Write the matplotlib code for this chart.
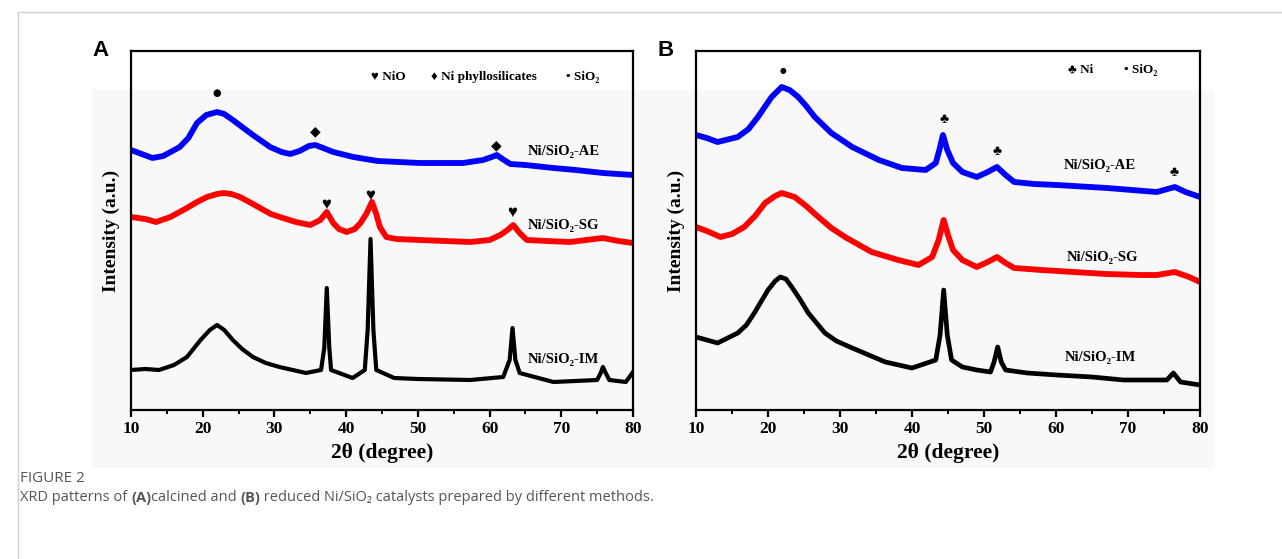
import matplotlib.pyplot as plt
from matplotlib.patches import Rectangle
from matplotlib.lines import Line2D

# Panel A (calcined) - 2theta (degree) / intensity (a.u., traces offset)
a_ae_x = [10, 11.5, 13, 14.5, 16.8, 18, 19.2, 20.5, 22, 23, 24.2, 25.5, 27, 29.4, 31, 32.2, 33.5, 34.8, 35.7, 36.8,
          38.2, 41, 44.4, 50.3, 56.3, 59.1, 60.3, 61, 61.8, 62.9, 65, 68.9, 72, 75.8, 80]
a_ae_y = [260, 256, 252, 254, 263, 272, 287, 295, 298, 296, 290, 283, 275, 263, 258, 256, 259, 264, 265, 262,
          258, 253, 249, 247, 247, 250, 253, 255, 251, 246, 245, 242, 240, 237, 235]

a_sg_x = [10, 12, 13.5, 15.5, 17.8, 19.2, 20.6, 22, 22.9, 24, 25.2, 26.5, 28, 29.5, 31.2, 33, 35, 36.4, 37.3, 38.2,
          39, 40.1, 41.2, 42, 42.8, 43.6, 44.2, 44.7, 45.6, 47, 50.3, 57.3, 60, 61.5, 62.5, 63.3, 64.2, 65.2, 68, 71.2,
          75.8, 78, 80]
a_sg_y = [193, 191, 188, 193, 202, 208, 213, 216, 217, 216, 213, 208, 202, 196, 192, 188, 185, 190, 198, 187,
          181, 178, 181, 187, 196, 208, 196, 183, 173, 171, 170, 168, 170, 175, 180, 185, 177, 170, 169, 168,
          172, 169, 167]

a_im_x = [10, 12, 13.9, 16, 17.8, 19.7, 21, 22, 23, 24.2, 25.5, 27, 28.8, 30.7, 34.4, 36.5, 36.95, 37.3, 37.65, 37.9,
          40.9, 42.6, 43.0, 43.4, 43.8, 44.2, 46.7, 50, 57.3, 61.9, 62.8, 63.2, 63.6, 64.2, 68.9, 75, 75.5,
          75.8, 76.2, 76.7, 79, 79.9]
a_im_y = [40, 41, 40, 45, 53, 70, 80, 85, 80, 70, 61, 53, 47, 43, 37, 40, 62, 122, 62, 40,
          32, 40, 80, 171, 80, 40, 32, 31, 30, 33, 50, 82, 50, 37, 28, 30, 37,
          43, 37, 30, 28, 37]

# Panel B (reduced)
b_ae_x = [10, 11.5, 13, 15.8, 17.3, 18.6, 20.5, 21.9, 23, 24.2, 25.3, 26.5, 28.8, 31.7, 35.4, 38.6, 41.9, 43.3,
          43.8, 44.3, 44.9, 45.7, 47, 49, 50.5, 51.8, 53, 54.2, 57, 60.1, 67.1, 74, 76.5, 78, 80]
b_ae_y = [275, 272, 268, 273, 281, 293, 313, 323, 320, 313, 304, 293, 277, 263, 250, 242, 240, 247,
          260, 275, 260, 247, 238, 233, 238, 243, 235, 228, 226, 225, 222, 218, 223, 218, 213]

b_sg_x = [10, 11.5, 13.4, 15, 16.7, 18.2, 19.6, 21, 21.9, 23.7, 25.3, 27, 28.8, 30.7, 34.4, 38.1, 40.9, 42.8, 43.7,
          44.4, 45, 45.7, 47, 49, 50.5, 51.8, 53, 54.2, 58, 62.4, 67, 71.7, 74, 76.5, 78.5, 80]
b_sg_y = [183, 179, 173, 176, 183, 194, 207, 214, 217, 213, 204, 193, 182, 173, 158, 150, 145, 153, 170,
          190, 175, 160, 150, 143, 148, 153, 147, 142, 140, 138, 136, 135, 135, 138, 133, 128]

b_im_x = [10, 11.5, 13, 15.8, 17, 18.1, 20, 21, 21.7, 22.5, 23.3, 24.5, 25.6, 27.9, 29.5, 31.7, 34, 36.3, 40, 43.3,
          43.9, 44.4, 44.9, 45.5, 47, 49, 50.9, 51.4, 51.9, 52.4, 53, 56, 60.1, 65, 69.4, 75.4, 76.3, 77.3, 80]
b_im_y = [73, 70, 67, 77, 85, 97, 120, 129, 133, 131, 123, 110, 97, 77, 69, 62, 55, 48, 42, 50,
          75, 120, 75, 50, 43, 40, 38, 48, 63, 48, 40, 37, 35, 33, 30, 30, 37, 28, 25]

SERIF = ['Liberation Serif', 'DejaVu Serif']
SYM = ['Liberation Serif', 'DejaVu Sans']

fig = plt.figure(figsize=(12.82, 5.59), dpi=100)

# page frame + light chart background
fig.add_artist(Line2D([18 / 1282, 18 / 1282], [0, 1 - 12 / 559], color='#d0d0d0', lw=1))
fig.add_artist(Line2D([18 / 1282, 1], [1 - 12 / 559, 1 - 12 / 559], color='#d0d0d0', lw=1))
fig.add_artist(Rectangle((92 / 1282, 1 - 467 / 559), (1213 - 92) / 1282, (467 - 90) / 559,
                         color='#f8f8f8', zorder=-1))


def setup(ax, letter):
    ax.set_xlim(10, 80)
    ax.set_ylim(0, 359)
    ax.set_facecolor('none')
    for s in ax.spines.values():
        s.set_linewidth(1.6)
    ax.set_xticks(range(10, 81, 10))
    ax.set_xticks(range(15, 80, 10), minor=True)
    ax.set_yticks([])
    ax.tick_params(axis='x', which='major', direction='out', length=5, width=1.6, pad=3)
    ax.tick_params(axis='x', which='minor', direction='out', length=3, width=1.4)
    for lab in ax.get_xticklabels():
        lab.set_family(SERIF)
        lab.set_fontweight('bold')
        lab.set_fontsize(12.5)
    ax.set_xlabel('2θ (degree)', family=SERIF, fontweight='bold', fontsize=15.5, labelpad=4)
    ax.set_ylabel('Intensity (a.u.)', family=SERIF, fontweight='bold', fontsize=14, labelpad=8)
    ax.text(-0.045, 1.0, letter, transform=ax.transAxes, fontsize=16, fontweight='bold',
            family=['Liberation Sans', 'DejaVu Sans'], ha='right', va='center')


axA = fig.add_axes([131 / 1282, 149 / 559, 502 / 1282, 359 / 559])
axB = fig.add_axes([696 / 1282, 149 / 559, 504 / 1282, 359 / 559])
setup(axA, 'A')
setup(axB, 'B')

lw = 4.2
axA.plot(a_ae_x, a_ae_y, color='#0000ff', lw=lw, solid_joinstyle='round')
axA.plot(a_sg_x, a_sg_y, color='#ff0000', lw=lw, solid_joinstyle='round')
axA.plot(a_im_x, a_im_y, color='black', lw=3.0, solid_joinstyle='round')
axB.plot(b_ae_x, b_ae_y, color='#0000ff', lw=lw, solid_joinstyle='round')
axB.plot(b_sg_x, b_sg_y, color='#ff0000', lw=lw, solid_joinstyle='round')
axB.plot(b_im_x, b_im_y, color='black', lw=3.4, solid_joinstyle='round')

lab_kw = dict(family=SERIF, fontweight='bold', fontsize=10.5, ha='center', va='center')
axA.text(70.3, 259, 'Ni/SiO₂-AE', **lab_kw)
axA.text(70.3, 185, 'Ni/SiO₂-SG', **lab_kw)
axA.text(70.3, 50, 'Ni/SiO₂-IM', **lab_kw)
axB.text(66.1, 245, 'Ni/SiO₂-AE', **lab_kw)
axB.text(66.5, 153, 'Ni/SiO₂-SG', **lab_kw)
axB.text(66.1, 53, 'Ni/SiO₂-IM', **lab_kw)

dot_kw = dict(family=['DejaVu Sans'], ha='center', va='center')
sym_kw = dict(family=SYM, fontsize=10, ha='center', va='center')
axA.text(22, 317, '●', fontsize=7, **dot_kw)
axA.text(35.7, 278, '◆', **sym_kw)
axA.text(61, 264, '◆', **sym_kw)
axA.text(37.2, 205, '♥', fontsize=12, family=SYM, ha='center', va='center')
axA.text(43.3, 214, '♥', fontsize=12, family=SYM, ha='center', va='center')
axA.text(63.2, 197, '♥', fontsize=12, family=SYM, ha='center', va='center')
axB.text(22, 340, '●', fontsize=5.5, **dot_kw)
axB.text(44.4, 290, '♣', **sym_kw)
axB.text(51.8, 258, '♣', **sym_kw)
axB.text(76.4, 237, '♣', **sym_kw)

leg_kw = dict(family=SYM, fontweight='bold', fontsize=9.5, ha='left', va='center')
axA.text(43.4, 333, '♥ NiO', **leg_kw)
axA.text(51.9, 333, '♦ Ni phyllosilicates', **leg_kw)
axA.text(70.6, 333, '• SiO₂', **leg_kw)
axB.text(61.6, 340, '♣ Ni', **leg_kw)
axB.text(69.5, 340, '• SiO₂', **leg_kw)

# caption
cap_font = ['Open Sans', 'DejaVu Sans']
fig.text(20 / 1282, 1 - 479 / 559, 'FIGURE 2', family=cap_font, fontsize=11, color='#555555', va='center')
t = fig.text(20 / 1282, 1 - 501 / 559, 'XRD patterns of ', family=cap_font, fontsize=10.5,
             color='#555555', va='baseline')
parts = [('(A)', 'bold'), ('calcined and ', 'normal'), ('(B)', 'bold'),
         (' reduced Ni/SiO₂ catalysts prepared by different methods.', 'normal')]
for txt, wt in parts:
    t = plt.annotate(txt, xy=(1, 0), xycoords=t, va='bottom', ha='left', family=cap_font,
                     fontsize=10.5, fontweight=wt, color='#555555', annotation_clip=False)

fig.savefig('out.png', dpi=100)
